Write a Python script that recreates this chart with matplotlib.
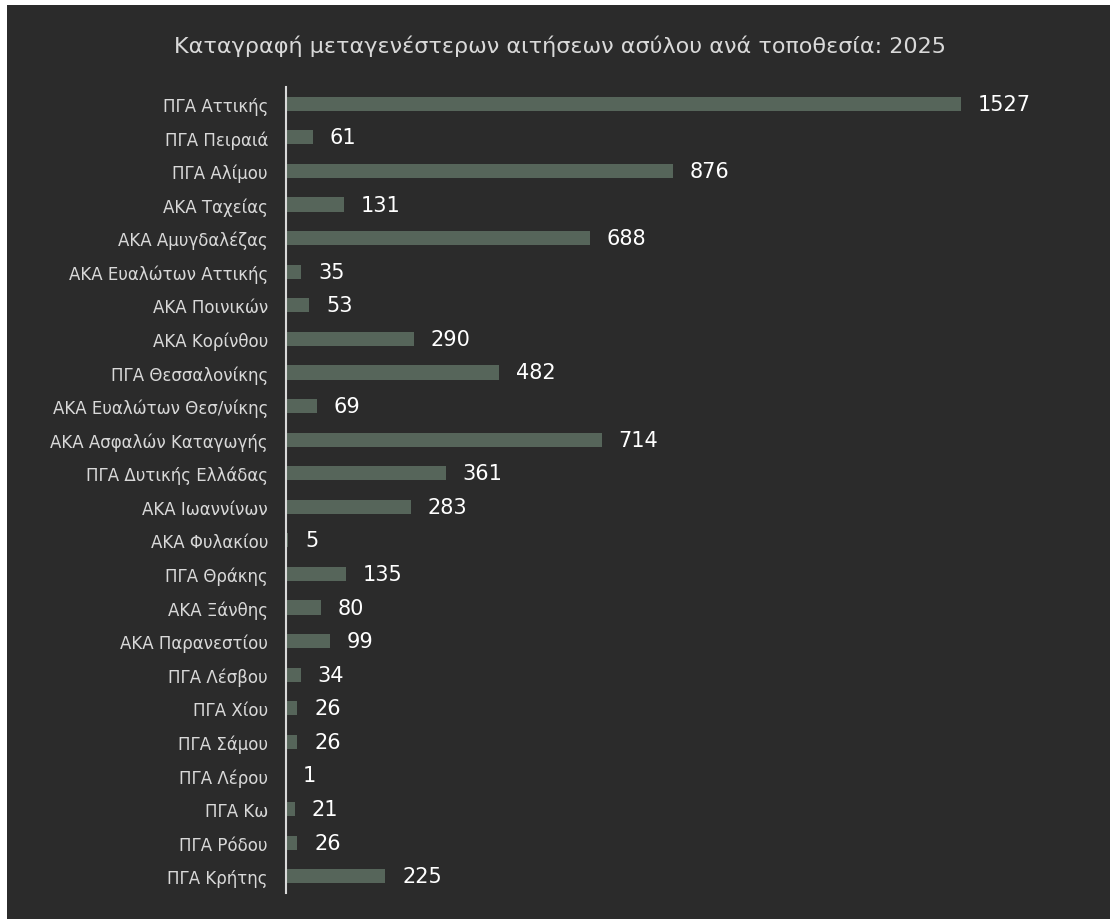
import matplotlib
matplotlib.use("Agg")
import matplotlib.pyplot as plt
from matplotlib.patches import Rectangle

categories = [
    "ΠΓΑ Αττικής", "ΠΓΑ Πειραιά", "ΠΓΑ Αλίμου", "ΑΚΑ Ταχείας", "ΑΚΑ Αμυγδαλέζας",
    "ΑΚΑ Ευαλώτων Αττικής", "ΑΚΑ Ποινικών", "ΑΚΑ Κορίνθου", "ΠΓΑ Θεσσαλονίκης",
    "ΑΚΑ Ευαλώτων Θεσ/νίκης", "ΑΚΑ Ασφαλών Καταγωγής", "ΠΓΑ Δυτικής Ελλάδας",
    "ΑΚΑ Ιωαννίνων", "ΑΚΑ Φυλακίου", "ΠΓΑ Θράκης", "ΑΚΑ Ξάνθης", "ΑΚΑ Παρανεστίου",
    "ΠΓΑ Λέσβου", "ΠΓΑ Χίου", "ΠΓΑ Σάμου", "ΠΓΑ Λέρου", "ΠΓΑ Κω", "ΠΓΑ Ρόδου",
    "ΠΓΑ Κρήτης",
]
values = [1527, 61, 876, 131, 688, 35, 53, 290, 482, 69, 714, 361, 283, 5, 135,
          80, 99, 34, 26, 26, 1, 21, 26, 225]
title = "Καταγραφή μεταγενέστερων αιτήσεων ασύλου ανά τοποθεσία: 2025"

BG = "#2b2b2b"
BAR = "#56655a"
TXT = "#d9d9d9"

plt.rcParams['font.family'] = ['DejaVu Sans']

fig = plt.figure(figsize=(11.1, 9.2), dpi=100)
fig.patch.set_facecolor("white")
bg = Rectangle((7 / 1110, 0), 1 - 7 / 1110, 1 - 6 / 920,
               transform=fig.transFigure, facecolor=BG,
               edgecolor="none", zorder=-10)
fig.patches.append(bg)

ax = fig.add_axes([286 / 1110, 26 / 920, 774 / 1110, 806 / 920])
ax.set_zorder(1)
ax.set_facecolor("none")
y = list(range(len(categories)))
ax.barh(y, values, height=0.42, color=BAR)
ax.set_ylim(len(categories) - 0.5, -0.5)
ax.set_xlim(0, 1751)
ax.set_yticks(y)
ax.set_yticklabels(categories, color=TXT, fontsize=12)
ax.tick_params(axis="y", length=0, pad=13)
ax.set_xticks([])
for s in ["top", "right", "bottom"]:
    ax.spines[s].set_visible(False)
ax.spines["left"].set_color(TXT)
ax.spines["left"].set_linewidth(1.5)

for yi, v in zip(y, values):
    ax.annotate(str(v), xy=(v, yi), xytext=(12, 0), textcoords="offset points",
                va="center", ha="left", color="white", fontsize=15)

fig.text(560 / 1110, 1 - 46 / 920, title, ha="center", va="center",
         color=TXT, fontsize=16, zorder=2)

fig.savefig("out.png", dpi=100)
